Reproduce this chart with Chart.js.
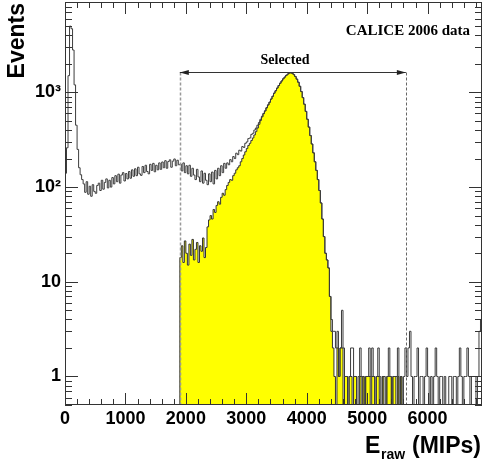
<!DOCTYPE html>
<html>
<head>
<meta charset="utf-8">
<script src="https://cdn.jsdelivr.net/npm/chart.js@4.4.1/dist/chart.umd.min.js"></script>
<style>
  html, body { margin: 0; padding: 0; background: #fff; }
</style>
</head>
<body>
<canvas id="chart" width="498" height="461"></canvas>
<script>
// histogram binning (MIPs)
const binWidth = 25;
const xMin = 0;
const xMax = 6900;
const yMin = 0.5;
const yMax = 9000;

const xTicks = [0, 1000, 2000, 3000, 4000, 5000, 6000];
const yTicks = [1, 10, 100, 1000];
const yTickLabels = ['1', '10', '10²', '10³'];

// cut window drawn as the "Selected" arrow
const cutLow = 1900;
const cutHigh = 5640;
const arrowLevel = 1650;

// all events, 25 MIP bins from 0 to 6900
const allEvents = [
  140, 260, 1500, 5000, 4700, 2800, 1200, 450, 250, 160, 135, 120,
  108, 88, 114, 84, 102, 80, 106, 90, 86, 104,
  110, 92, 118, 95, 112, 122, 98, 118, 100, 126,
  108, 132, 114, 137, 110, 134, 142, 116, 139, 122,
  146, 124, 152, 130, 156, 132, 162, 138, 133, 165,
  142, 170, 146, 138, 174, 150, 178, 145, 170, 152,
  180, 154, 184, 160, 190, 158, 186, 194, 162, 188,
  198, 168, 192, 172,
  175, 148, 180, 142, 168, 138, 170, 130, 158, 134,
  120, 154, 128, 114, 148, 110, 140, 118, 106, 138,
  114, 144, 108, 150, 122, 158, 132, 168, 142, 178,
  158, 180, 172, 195, 185, 210, 200, 228, 220, 245,
  240, 268, 262, 290, 300, 325, 330, 360, 370, 400,
  420, 450, 480, 520, 560, 600, 640, 690, 740, 790,
  850, 910, 980, 1040, 1110, 1180, 1250, 1320, 1390, 1450,
  1510, 1560, 1600, 1610, 1590, 1540, 1470, 1380, 1280, 1160,
  1020, 880, 750, 630, 520, 430, 350, 285, 230, 185,
  150, 120, 92, 68, 46, 30, 20, 17, 14, 7,
  4, 3, 3, 2, 3, 1, 2, 5, 2, 1,
  1, 0, 1, 2, 2, 1, 1, 0, 1, 2,
  1, 1, 0, 1, 1, 2, 1, 2, 1, 0,
  1, 2, 1, 0, 1, 1, 0, 1, 2, 1,
  0, 1, 1, 1, 2, 0, 1, 0, 1, 2,
  1, 2, 3, 1, 0, 1, 1, 2, 0, 1,
  1, 0, 1, 2, 1, 0, 1, 0, 1, 2,
  1, 0, 1, 1, 0, 1, 0, 0, 1, 1,
  0, 1, 1, 0, 1, 2, 1, 0, 1, 1,
  2, 1, 0, 1, 1, 1, 0, 1, 3, 4
];

// selected events, same binning
const selectedEvents = [
  0, 0, 0, 0, 0, 0, 0, 0, 0, 0, 0, 0,
  0, 0, 0, 0, 0, 0, 0, 0, 0, 0,
  0, 0, 0, 0, 0, 0, 0, 0, 0, 0,
  0, 0, 0, 0, 0, 0, 0, 0, 0, 0,
  0, 0, 0, 0, 0, 0, 0, 0, 0, 0,
  0, 0, 0, 0, 0, 0, 0, 0, 0, 0,
  0, 0, 0, 0, 0, 0, 0, 0, 0, 0,
  0, 0, 0, 0,
  18, 24, 16, 27, 20, 15, 25, 19, 28, 17,
  22, 26, 16, 24, 21, 29, 18, 23, 38, 45,
  50, 46, 58, 54, 64, 70, 66, 78, 86, 82,
  94, 104, 112, 120, 118, 132, 140, 152, 160, 168,
  185, 200, 218, 236, 255, 275, 290, 310, 330, 355,
  385, 420, 460, 505, 550, 595, 635, 685, 735, 785,
  850, 910, 980, 1040, 1110, 1180, 1250, 1320, 1390, 1450,
  1510, 1560, 1600, 1610, 1590, 1540, 1470, 1380, 1280, 1160,
  1020, 880, 750, 630, 520, 430, 350, 285, 230, 185,
  150, 120, 92, 68, 46, 30, 20, 17, 14, 7,
  3, 2, 1, 0, 2, 1, 2, 2, 0, 1,
  1, 0, 1, 1, 0, 1, 1, 0, 0, 1,
  0, 1, 0, 1, 1, 1, 0, 1, 1, 0,
  1, 1, 0, 0, 1, 0, 0, 1, 1, 1,
  0, 1, 1, 0, 1, 0, 1, 0, 0, 0,
  0, 0, 0, 0, 0, 0, 0, 0, 0, 0,
  0, 0, 0, 0, 0, 0, 0, 0, 0, 0,
  0, 0, 0, 0, 0, 0, 0, 0, 0, 0,
  0, 0, 0, 0, 0, 0, 0, 0, 0, 0,
  0, 0, 0, 0, 0, 0, 0, 0, 0, 0
];

// step points at bin edges; empty bins drop below the log axis (clipped)
function histPoints(counts) {
  const pts = counts.map((c, i) => ({ x: xMin + i * binWidth, y: c > 0 ? c : yMin / 5 }));
  pts.push({ x: xMin + counts.length * binWidth, y: pts[pts.length - 1].y });
  return pts;
}

const framePlugin = {
  id: 'frame',
  afterDatasetsDraw(chart) {
    const { ctx, chartArea: a, scales: { x, y } } = chart;
    ctx.save();

    // selection window: dashed cut lines + double arrow
    const xl = x.getPixelForValue(cutLow);
    const xr = x.getPixelForValue(cutHigh);
    const ya = Math.round(y.getPixelForValue(arrowLevel)) + 0.5;
    ctx.setLineDash([3, 2]);
    ctx.lineWidth = 1.5;
    ctx.strokeStyle = '#999';
    ctx.beginPath();
    ctx.moveTo(Math.round(xl) + 0.5, ya);
    ctx.lineTo(Math.round(xl) + 0.5, a.bottom);
    ctx.stroke();
    ctx.lineWidth = 1;
    ctx.strokeStyle = '#666';
    ctx.beginPath();
    ctx.moveTo(Math.round(xr) + 0.5, ya);
    ctx.lineTo(Math.round(xr) + 0.5, a.bottom);
    ctx.stroke();
    ctx.setLineDash([]);
    ctx.strokeStyle = '#333';
    ctx.beginPath();
    ctx.moveTo(xl, ya);
    ctx.lineTo(xr, ya);
    ctx.stroke();
    ctx.fillStyle = '#222';
    ctx.beginPath();
    ctx.moveTo(xl, ya); ctx.lineTo(xl + 9, ya - 2.5); ctx.lineTo(xl + 9, ya + 2.5); ctx.closePath();
    ctx.moveTo(xr, ya); ctx.lineTo(xr - 9, ya - 2.5); ctx.lineTo(xr - 9, ya + 2.5); ctx.closePath();
    ctx.fill();

    // frame
    ctx.strokeStyle = '#333';
    ctx.lineWidth = 1;
    ctx.strokeRect(a.left + 0.5, a.top + 0.5, a.right - a.left - 1, a.bottom - a.top - 1);

    // inward ticks on all four sides
    ctx.beginPath();
    for (let v = xMin; v <= xMax; v += 200) {
      const px = Math.round(x.getPixelForValue(v)) + 0.5;
      const len = v % 1000 === 0 ? 12 : 6;
      ctx.moveTo(px, a.bottom); ctx.lineTo(px, a.bottom - len);
      ctx.moveTo(px, a.top); ctx.lineTo(px, a.top + len);
    }
    for (let d = -1; d <= 3; d++) {
      for (let m = 1; m <= 9; m++) {
        const v = m * Math.pow(10, d);
        if (v < yMin || v > yMax) continue;
        const py = Math.round(y.getPixelForValue(v)) + 0.5;
        const len = m === 1 ? 13 : 7;
        ctx.moveTo(a.left, py); ctx.lineTo(a.left + len, py);
        ctx.moveTo(a.right, py); ctx.lineTo(a.right - len, py);
      }
    }
    ctx.stroke();
    ctx.restore();
  },
  afterDraw(chart) {
    const { ctx } = chart;
    ctx.save();
    ctx.fillStyle = '#000';

    // y title
    ctx.save();
    ctx.translate(24, 3);
    ctx.rotate(-Math.PI / 2);
    ctx.textAlign = 'right';
    ctx.textBaseline = 'alphabetic';
    ctx.font = 'bold 23px "Liberation Sans", Arial, sans-serif';
    ctx.fillText('Events', 0, 0);
    ctx.restore();

    // x title with subscript
    ctx.textBaseline = 'alphabetic';
    ctx.textAlign = 'left';
    ctx.font = 'bold 23px "Liberation Sans", Arial, sans-serif';
    ctx.fillText('E', 365, 453);
    ctx.font = 'bold 14px "Liberation Sans", Arial, sans-serif';
    ctx.fillText('raw', 381, 459);
    ctx.font = 'bold 23px "Liberation Sans", Arial, sans-serif';
    ctx.textAlign = 'right';
    ctx.fillText('(MIPs)', 481, 453);

    // labels
    ctx.font = 'bold 15px "Liberation Serif", "Times New Roman", serif';
    ctx.textAlign = 'right';
    ctx.fillText('CALICE 2006 data', 470, 35);
    ctx.font = 'bold 14px "Liberation Serif", "Times New Roman", serif';
    ctx.textAlign = 'center';
    ctx.fillText('Selected', 285, 64);
    ctx.restore();
  }
};

new Chart(document.getElementById('chart'), {
  type: 'line',
  data: {
    datasets: [
      {
        label: 'All events',
        data: histPoints(allEvents),
        stepped: true,
        borderColor: '#3c3c3c',
        borderWidth: 1,
        pointRadius: 0,
        fill: false,
        order: 0
      },
      {
        label: 'Selected',
        data: histPoints(selectedEvents),
        stepped: true,
        borderColor: '#333',
        borderWidth: 1,
        backgroundColor: '#ffff00',
        pointRadius: 0,
        fill: 'start',
        order: 1
      }
    ]
  },
  options: {
    responsive: false,
    animation: false,
    layout: { padding: { left: 0, right: 16, top: 2, bottom: 0 } },
    plugins: { legend: { display: false }, tooltip: { enabled: false } },
    scales: {
      x: {
        type: 'linear',
        min: xMin,
        max: xMax,
        grid: { display: false, drawTicks: false },
        border: { display: false },
        afterBuildTicks: s => { s.ticks = xTicks.map(v => ({ value: v })); },
        afterFit: s => { s.height = 56; s.paddingLeft = 0; s.paddingRight = 0; },
        ticks: {
          autoSkip: false,
          maxRotation: 0,
          padding: 3,
          color: '#000',
          font: { family: '"Liberation Sans", Arial, sans-serif', size: 18, weight: 'bold' },
          callback: v => String(v)
        }
      },
      y: {
        type: 'logarithmic',
        min: yMin,
        max: yMax,
        grid: { display: false, drawTicks: false },
        border: { display: false },
        afterBuildTicks: s => { s.ticks = yTicks.map(v => ({ value: v })); },
        afterFit: s => { s.width = 65; s.paddingTop = 0; s.paddingBottom = 0; },
        ticks: {
          autoSkip: false,
          padding: 4,
          color: '#000',
          font: { family: '"Liberation Sans", Arial, sans-serif', size: 18, weight: 'bold' },
          callback: (v, i) => yTickLabels[i]
        }
      }
    }
  },
  plugins: [framePlugin]
});
</script>
</body>
</html>
